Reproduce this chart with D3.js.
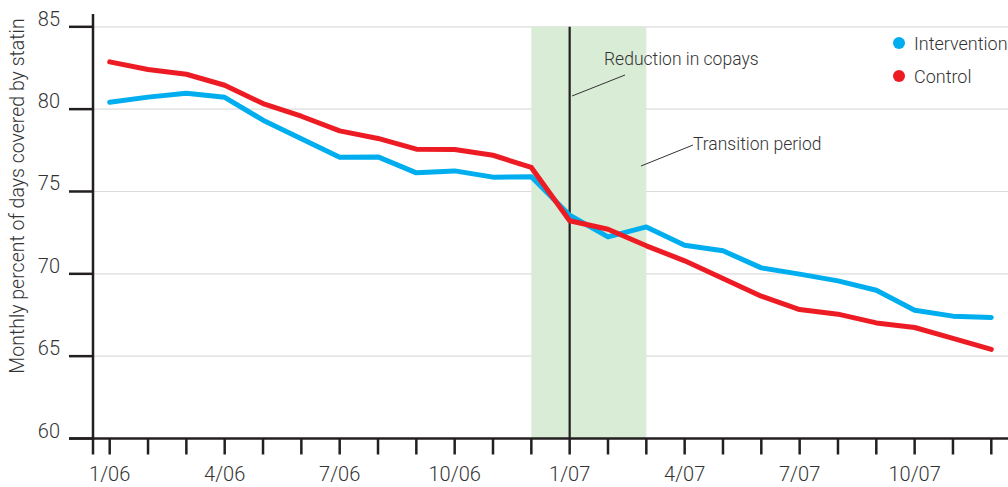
<!DOCTYPE html>
<html><head><meta charset="utf-8">
<script src="https://cdn.jsdelivr.net/npm/d3@7"></script>
<style>body{margin:0;background:#fff}svg{display:block}text{font-family:Roboto,"Open Sans",sans-serif;fill:#333}</style>
</head><body>
<svg id="c" width="1008" height="487"></svg>
<script>
const months = ["1/06","2/06","3/06","4/06","5/06","6/06","7/06","8/06","9/06","10/06","11/06","12/06",
"1/07","2/07","3/07","4/07","5/07","6/07","7/07","8/07","9/07","10/07","11/07","12/07"];
const intervention = [80.42,80.73,80.97,80.72,79.33,78.2,77.08,77.1,76.13,76.25,75.87,75.89,
73.56,72.24,72.85,71.74,71.4,70.36,69.98,69.57,69.0,67.79,67.43,67.35];
const control = [82.87,82.41,82.12,81.45,80.34,79.57,78.68,78.22,77.57,77.55,77.2,76.46,
73.22,72.71,71.7,70.79,69.72,68.64,67.83,67.55,67.02,66.74,66.08,65.41];
const yTicks = [60,65,70,75,80,85];
const xLabelMonths = ["1/06","4/06","7/06","10/06","1/07","4/07","7/07","10/07"];
const transition = ["12/06","3/07"];
const copayMonth = "1/07";
const legendItems = [{name:"Intervention",color:"#00aeef"},{name:"Control",color:"#ed1c24"}];

const svg = d3.select("#c");
const x = d3.scalePoint().domain(months).range([109.7, 991.3]);
const y = d3.scaleLinear().domain([60,85]).range([438.5, 26.8]);
const x0 = 93;

// grid
svg.append("g").selectAll("line").data(yTicks.filter(d=>d>60)).join("line")
  .attr("x1",x0).attr("x2",1008).attr("y1",d=>y(d)).attr("y2",d=>y(d))
  .attr("stroke","#dcdcdc").attr("stroke-width",1.2);

// transition shading
svg.append("rect").attr("x",x(transition[0])).attr("width",x(transition[1])-x(transition[0]))
  .attr("y",y(85)).attr("height",y(60)-y(85)).attr("fill","#d9ecd6");

// copay line
svg.append("line").attr("x1",x(copayMonth)).attr("x2",x(copayMonth)).attr("y1",y(85)).attr("y2",y(60))
  .attr("stroke","#231f20").attr("stroke-width",2.2);

// lines
const line = d3.line().x((d,i)=>x(months[i])).y(d=>y(d));
svg.append("path").datum(intervention).attr("d",line).attr("fill","none")
  .attr("stroke","#00aeef").attr("stroke-width",5).attr("stroke-linejoin","round").attr("stroke-linecap","round");
svg.append("path").datum(control).attr("d",line).attr("fill","none")
  .attr("stroke","#ed1c24").attr("stroke-width",5).attr("stroke-linejoin","round").attr("stroke-linecap","round");

// y axis
const ya = svg.append("g");
ya.append("line").attr("x1",x0).attr("x2",x0).attr("y1",14).attr("y2",y(60)+1).attr("stroke","#231f20").attr("stroke-width",2.5);
ya.selectAll("line.t").data(yTicks).join("line").attr("class","t")
  .attr("x1",69).attr("x2",x0).attr("y1",d=>y(d)).attr("y2",d=>y(d)).attr("stroke","#231f20").attr("stroke-width",2.5);
ya.selectAll("text").data(yTicks).join("text")
  .attr("x",60).attr("y",d=>y(d)-1).attr("text-anchor","end").attr("font-size",20).attr("font-weight",300).text(d=>d);

// x axis
const xa = svg.append("g");
xa.append("line").attr("x1",69).attr("x2",1008).attr("y1",y(60)).attr("y2",y(60)).attr("stroke","#231f20").attr("stroke-width",2.5);
xa.selectAll("line.t").data([null].concat(months)).join("line").attr("class","t")
  .attr("x1",d=>d===null?x0:x(d)).attr("x2",d=>d===null?x0:x(d))
  .attr("y1",y(60)).attr("y2",y(60)+16).attr("stroke","#231f20").attr("stroke-width",2.5);
xa.selectAll("text").data(xLabelMonths).join("text")
  .attr("x",d=>x(d)).attr("y",481).attr("text-anchor","middle").attr("font-size",20).attr("font-weight",300).text(d=>d);

// y label
svg.append("text").attr("transform","translate(24,196) rotate(-90)").attr("text-anchor","middle")
  .attr("font-size",19.5).attr("font-weight",300).text("Monthly percent of days covered by statin");

// annotations
svg.append("line").attr("x1",625).attr("y1",75).attr("x2",572).attr("y2",96).attr("stroke","#333").attr("stroke-width",1);
svg.append("text").attr("x",604).attr("y",65).attr("font-size",17.5).attr("font-weight",300).text("Reduction in copays");
svg.append("line").attr("x1",693).attr("y1",145).attr("x2",641).attr("y2",166).attr("stroke","#333").attr("stroke-width",1);
svg.append("text").attr("x",693).attr("y",150).attr("font-size",17.5).attr("font-weight",300).text("Transition period");

// legend
const lg = svg.append("g").selectAll("g").data(legendItems).join("g")
  .attr("transform",(d,i)=>`translate(899,${43+i*33})`);
lg.append("circle").attr("r",6).attr("fill",d=>d.color);
lg.append("text").attr("x",15).attr("y",7).attr("font-size",18).attr("font-weight",300).text(d=>d.name);
</script>
</body></html>
